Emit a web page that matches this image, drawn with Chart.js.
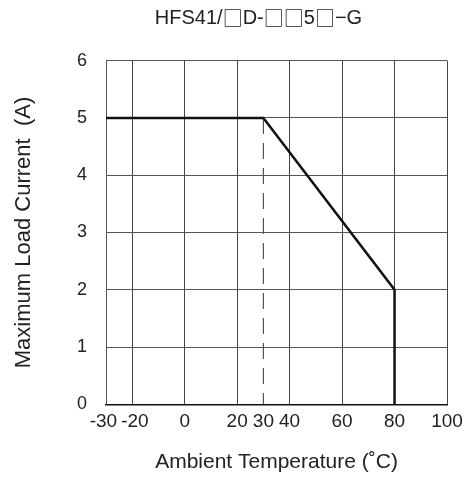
<!DOCTYPE html>
<html>
<head>
<meta charset="utf-8">
<script src="https://cdn.jsdelivr.net/npm/chart.js@4"></script>
<style>
  html, body { margin: 0; padding: 0; background: #fff; }
  #wrap { width: 471px; height: 480px; }
</style>
</head>
<body>
<div id="wrap"><canvas id="c" width="471" height="480"></canvas></div>
<script>
const chartTitle = "HFS41/\u25A1D-\u25A1\u25A15\u25A1\u2212G";
const xTitle = "Ambient Temperature (\u02DAC)";
const yTitle = "Maximum Load Current  (A)";

const temps = [-30, 30, 80, 80];
const currents = [5, 5, 2, 0];

const dashTemps = [30, 30];
const dashCurrents = [5, 0];

const xTicks = [-30, -20, 0, 20, 30, 40, 60, 80, 100];
const xTickLabels = ['-30 ', ' -20', '0', '20', '30', '40', '60', '80', '100'];
const yTicks = [0, 1, 2, 3, 4, 5, 6];

const FONT = "'Liberation Sans', Arial, sans-serif";
const BOXFONT = "'Noto Sans CJK SC', 'DejaVu Sans', sans-serif";

const titlePlugin = {
  id: 'topTitle',
  afterDraw(chart) {
    const ctx = chart.ctx;
    ctx.save();
    const size = 20;
    const runs = [];
    for (const ch of chartTitle) {
      const isBox = ch === '\u25A1';
      const last = runs[runs.length - 1];
      if (last && last.box === isBox) last.t += ch; else runs.push({ t: ch, box: isBox });
    }
    let total = 0;
    runs.forEach(r => {
      ctx.font = size + "px " + (r.box ? BOXFONT : FONT);
      r.w = ctx.measureText(r.t).width;
      total += r.w;
    });
    let x = 258.5 - total / 2;
    ctx.fillStyle = '#222';
    ctx.textAlign = 'left';
    ctx.textBaseline = 'middle';
    runs.forEach(r => {
      ctx.font = size + "px " + (r.box ? BOXFONT : FONT);
      ctx.fillText(r.t, x, 18);
      x += r.w;
    });
    ctx.restore();
  }
};

new Chart(document.getElementById('c'), {
  type: 'line',
  data: {
    datasets: [
      {
        data: temps.map((t, i) => ({ x: t, y: currents[i] })),
        borderColor: '#111',
        borderWidth: 2.5,
        pointRadius: 0,
        tension: 0,
        fill: false
      },
      {
        data: dashTemps.map((t, i) => ({ x: t, y: dashCurrents[i] })),
        borderColor: '#555',
        borderWidth: 1.2,
        borderDash: [16, 9],
        pointRadius: 0,
        tension: 0,
        fill: false
      }
    ]
  },
  options: {
    responsive: false,
    animation: false,
    devicePixelRatio: 1,
    layout: { padding: { top: 60.7, right: 24, bottom: 0, left: 0 } },
    plugins: { legend: { display: false }, tooltip: { enabled: false }, title: { display: false } },
    scales: {
      x: {
        type: 'linear',
        min: -30,
        max: 100,
        afterBuildTicks: s => { s.ticks = xTicks.map(v => ({ value: v })); },
        afterFit: s => { s.height = 75.7; },
        grid: {
          color: c => (c.tick && c.tick.value === 30) ? 'rgba(0,0,0,0)' : '#444',
          lineWidth: 1,
          drawTicks: false
        },
        border: { color: '#111', width: 1.6 },
        ticks: {
          autoSkip: false,
          maxRotation: 0,
          padding: 6,
          color: '#222',
          font: { family: FONT, size: 19 },
          callback: v => { const i = xTicks.indexOf(v); return i >= 0 ? xTickLabels[i] : ''; }
        },
        title: {
          display: true,
          text: xTitle,
          color: '#222',
          font: { family: FONT, size: 21 },
          padding: { top: 0, bottom: 5 }
        }
      },
      y: {
        min: 0,
        max: 6,
        afterBuildTicks: s => { s.ticks = yTicks.map(v => ({ value: v })); },
        afterFit: s => { s.width = 106; },
        grid: { color: '#555', lineWidth: 1, drawTicks: false },
        border: { color: '#555', width: 1 },
        ticks: {
          padding: 19,
          color: '#222',
          font: { family: FONT, size: 18 },
          callback: v => String(v)
        },
        title: {
          display: true,
          text: yTitle,
          color: '#222',
          font: { family: FONT, size: 22 },
          padding: { top: 11, bottom: 0 }
        }
      }
    }
  },
  plugins: [titlePlugin]
});
</script>
</body>
</html>
